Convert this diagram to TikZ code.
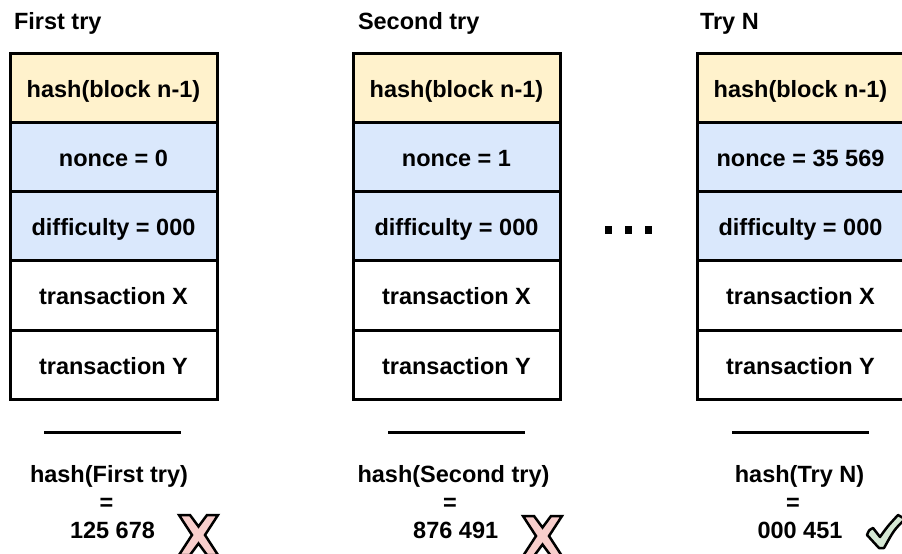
\documentclass[tikz,border=0pt]{standalone}
\usepackage{fontspec}
\setmainfont{Liberation Sans}
\definecolor{hashyellow}{HTML}{FFF2CC}
\definecolor{nonceblue}{HTML}{DAE8FC}
\definecolor{xpink}{HTML}{F8CECC}
\definecolor{okgreen}{HTML}{D5E8D4}
\begin{document}
\begin{tikzpicture}[x=1pt,y=-1pt,
  every node/.style={font=\fontsize{23.5}{28}\selectfont\bfseries, inner sep=0pt, outer sep=0pt},
  cell/.style={draw=black, line width=3pt, minimum width=207pt, minimum height=69.2pt, text height=20pt, text depth=1pt},
  hashcell/.style={cell, fill=hashyellow},
  bluecell/.style={cell, fill=nonceblue},
  whitecell/.style={cell, fill=white},
  header/.style={anchor=base west},
  resline/.style={anchor=base},
  rule/.style={line width=3pt},
  dotsq/.style={fill=black, minimum width=7pt, minimum height=8.5pt},
  xmark/.style={draw=black, line width=2.5pt, fill=xpink, line join=miter},
  chkmark/.style={draw=black, line width=2.5pt, fill=okgreen, line join=round}
]
\useasboundingbox (0,0) rectangle (902,554);
\fill[white] (0,0) rectangle (902,554);

% headers
\node[header] (t1) at (14,29) {First try};
\node[header] (t2) at (358,29) {Second try};
\node[header] (t3) at (700,29) {Try N};

% columns
\foreach \c/\cx/\n in {1/113.5/0, 2/456.5/1, 3/800.5/35 569}{
  \node[whitecell] (x\c) at (\cx,295.4) {transaction X};
  \node[whitecell] (y\c) at (\cx,364.6) {transaction Y};
  \node[bluecell] (d\c) at (\cx,226.2) {difficulty = 000};
  \node[bluecell] (n\c) at (\cx,157) {nonce = \n};
  \node[hashcell] (h\c) at (\cx,87.8) {hash(block n-1)};
}

% dots
\node[dotsq] (dA) at (608.5,230) {};
\node[dotsq] (dB) at (628.5,230) {};
\node[dotsq] (dC) at (648.5,230) {};

% rules
\coordinate (r1a) at (44,432); \coordinate (r1b) at (181,432);
\coordinate (r2a) at (388,432); \coordinate (r2b) at (525,432);
\coordinate (r3a) at (732,432); \coordinate (r3b) at (869,432);
\draw[rule] (r1a) -- (r1b);
\draw[rule] (r2a) -- (r2b);
\draw[rule] (r3a) -- (r3b);

% results
\node[resline] (a1) at (109,482) {hash(First try)};
\node[resline] (e1) at (106.5,510) {=};
\node[resline] (v1) at (112.5,538) {125 678};
\node[resline] (a2) at (453.5,482) {hash(Second try)};
\node[resline] (e2) at (450,510) {=};
\node[resline] (v2) at (455.7,538) {876 491};
\node[resline] (a3) at (799.5,482) {hash(Try N)};
\node[resline] (e3) at (793,510) {=};
\node[resline] (v3) at (800,538) {000 451};

% cross marks
\foreach \mx/\my in {198.5/535, 542.5/536}{
  \draw[xmark] (\mx-19.5,\my-20) -- (\mx-8.5,\my-20) -- (\mx,\my-8.5) -- (\mx+8.5,\my-20)
     -- (\mx+19.5,\my-20) -- (\mx+6.5,\my) -- (\mx+19.5,\my+20) -- (\mx+8.5,\my+20)
     -- (\mx,\my+8.5) -- (\mx-8.5,\my+20) -- (\mx-19.5,\my+20) -- (\mx-6.5,\my) -- cycle;
}
% check mark
\draw[chkmark] (867,535) .. controls (869,530) .. (873,528) -- (880,537)
  .. controls (887,527) .. (898,515) -- (905,519) .. controls (894,530) .. (884,548)
  -- (879,548) -- cycle;
\end{tikzpicture}
\end{document}
